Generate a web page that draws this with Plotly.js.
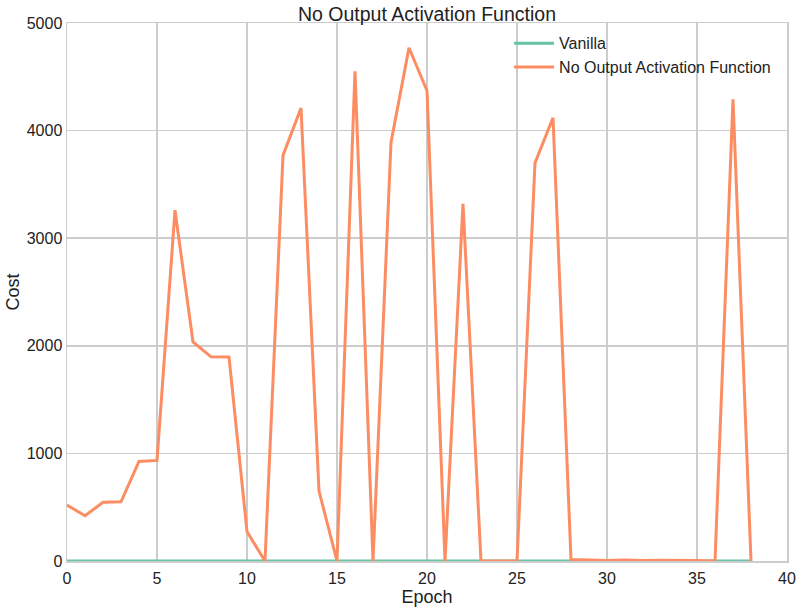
<!DOCTYPE html>
<html>
<head>
<meta charset="utf-8">
<script src="https://cdn.plot.ly/plotly-3.0.1.min.js"></script>
<style>
  html, body { margin: 0; padding: 0; background: #fff; }
  #chart { width: 800px; height: 609px; }
</style>
</head>
<body>
<div id="chart"></div>
<script>
// Cost per epoch
const epochs = [0, 1, 2, 3, 4, 5, 6, 7, 8, 9, 10, 11, 12, 13, 14, 15, 16, 17, 18, 19,
  20, 21, 22, 23, 24, 25, 26, 27, 28, 29, 30, 31, 32, 33, 34, 35, 36, 37, 38];
const vanillaCost = [0, 0, 0, 0, 0, 0, 0, 0, 0, 0, 0, 0, 0, 0, 0, 0, 0, 0, 0, 0,
  0, 0, 0, 0, 0, 0, 0, 0, 0, 0, 0, 0, 0, 0, 0, 0, 0, 0, 0];
const noActivationCost = [520, 420, 546, 550, 925, 935, 3260, 2036, 1897, 1895, 273, 0, 3770, 4210, 650, 0, 4550, 0, 3890, 4770,
  4370, 0, 3320, 0, 0, 0, 3700, 4120, 15, 8, 5, 10, 5, 8, 8, 5, 0, 4290, 0];
const xTicks = [0, 5, 10, 15, 20, 25, 30, 35, 40];
const yTicks = [0, 1000, 2000, 3000, 4000, 5000];

const font = "Liberation Sans, Arial, sans-serif";

const traces = [
  {
    x: epochs, y: vanillaCost, name: "Vanilla", type: "scatter", mode: "lines",
    line: { color: "#66c2a5", width: 3 },
  },
  {
    x: epochs, y: noActivationCost, name: "No Output Activation Function", type: "scatter", mode: "lines",
    line: { color: "#fc8d62", width: 3 },
  },
];

const axisStyle = {
  showgrid: true, gridcolor: "#cccccc", gridwidth: 1.5,
  showline: true, linecolor: "#cccccc", linewidth: 1.5, mirror: true,
  zeroline: false, ticks: "", tickfont: { size: 16, color: "#222" },
};

const layout = {
  width: 800, height: 609,
  margin: { l: 67, r: 13, t: 23, b: 48 },
  paper_bgcolor: "#fff", plot_bgcolor: "#fff",
  font: { family: font, color: "#222" },
  title: { text: "No Output Activation Function", font: { size: 19.5, color: "#222" },
    x: 0.5, xref: "paper", y: 0.977, yanchor: "middle" },
  xaxis: Object.assign({}, axisStyle, {
    range: [0, 40], tickvals: xTicks, ticklabelstandoff: 2,
    title: { text: "Epoch", font: { size: 18 }, standoff: 3 },
  }),
  yaxis: Object.assign({}, axisStyle, {
    range: [0, 5000], tickvals: yTicks,
    title: { text: "Cost", font: { size: 18 }, standoff: 2 },
  }),
  legend: {
    x: 0.614, y: 0.994, xanchor: "left", yanchor: "top", itemwidth: 40,
    bgcolor: "rgba(0,0,0,0)", font: { size: 16, color: "#222" },
  },
  showlegend: true,
};

Plotly.newPlot("chart", traces, layout, { staticPlot: true });
</script>
</body>
</html>
